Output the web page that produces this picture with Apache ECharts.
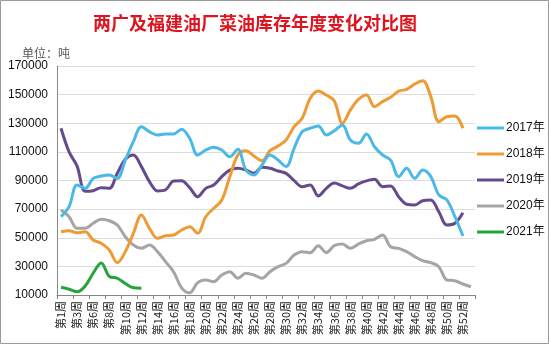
<!DOCTYPE html>
<html>
<head>
<meta charset="utf-8">
<script src="https://cdn.jsdelivr.net/npm/echarts@6/dist/echarts.min.js"></script>
<style>
html,body{margin:0;padding:0;background:#fff;}
#chart{width:550px;height:345px;}
</style>
</head>
<body>
<div id="chart"></div>
<script>
var titleText = '两广及福建油厂菜油库存年度变化对比图';
var unitText = '单位：吨';
var categories = ['第1周','第2周','第3周','第4周','第6周','第7周','第8周','第9周','第10周','第11周','第12周','第13周','第14周','第15周','第16周','第17周','第18周','第19周','第20周','第21周','第22周','第23周','第24周','第25周','第26周','第27周','第28周','第29周','第30周','第31周','第32周','第33周','第34周','第35周','第36周','第37周','第38周','第39周','第40周','第41周','第42周','第43周','第44周','第45周','第46周','第47周','第48周','第49周','第50周','第51周','第52周','第53周'];
var seriesNames = ['2017年','2018年','2019年','2020年','2021年'];
var y2017 = [64700,71700,86900,84500,91500,93100,93800,91500,104300,117100,127600,124100,121800,122500,122500,125800,119500,107800,111300,113200,111300,106600,111800,97300,93800,100800,107800,104300,99700,112500,124100,126500,128100,121800,124700,128800,118300,116000,122500,113600,107800,104300,92700,98500,91500,97300,92700,79900,76400,64700,51200];
var y2018 = [54200,54900,53500,54200,48400,46100,41400,32600,40300,53100,65900,56600,49600,51400,51900,55400,57700,53100,64700,70600,76400,92700,107800,110800,107100,103800,110800,114100,118300,127600,133500,147400,152500,149700,145600,130000,139300,146700,149700,141600,145100,148100,152500,153700,157400,159700,148600,131100,134600,135100,126500];
var y2019 = [126500,110000,100000,82500,82900,85000,84500,95000,104800,107800,99700,89200,82700,83400,89700,89900,85000,78700,84500,86900,92700,97300,98500,97300,95000,99200,98500,96600,95000,89900,85700,86900,79200,84500,88200,86200,84500,87600,89700,90800,85700,86200,78700,73400,72900,75900,76400,68200,58900,60100,67500];
var y2020 = [69400,64700,56600,56600,60100,62900,61900,58900,50700,44900,42600,44900,40300,33300,26300,15000,11500,18600,20500,19300,24000,26300,21700,25200,24000,21700,26300,29800,32100,37900,40300,39600,44400,39600,44500,45600,42600,45600,47900,48900,51900,43700,42600,40300,36800,34000,32600,29800,20500,20000,17700,15800];
var y2021 = [15400,14000,12200,16300,25200,32400,23000,21700,18000,15000,14700];
var colors = ['#4cb8e6','#ee9a35','#654b8c','#a5a5a5','#27a33b'];
var yMin = 10000, yMax = 170000, yStep = 20000;

var chart = echarts.init(document.getElementById('chart'), null, {renderer:'canvas'});
var dataSets = [y2017,y2018,y2019,y2020,y2021];
var series = seriesNames.map(function(n,i){
  return {
    name:n, type:'line', data:dataSets[i], smooth:0.35, showSymbol:false, symbol:'none',
    lineStyle:{width:3,color:colors[i]}, itemStyle:{color:colors[i]}, z: 10 - i
  };
});
chart.setOption({
  animation:false,
  backgroundColor:'#ffffff',
  color:colors,
  title:[{
    text:titleText, left:250, top:9, textAlign:'center',
    textStyle:{color:'#e0141e',fontSize:18,fontWeight:'bold',fontFamily:'Noto Sans CJK SC'}
  },{
    text:unitText, left:17, top:42,
    textStyle:{color:'#555',fontSize:12,fontWeight:'normal',fontFamily:'Noto Sans CJK SC'}
  }],
  legend:{
    orient:'vertical', left:472, top:116, itemWidth:27, itemHeight:3, itemGap:12,
    icon:'rect',
    textStyle:{color:'#111',fontSize:12,fontFamily:'Liberation Sans, Noto Sans CJK SC',lineHeight:14,padding:[0,0,0,-3]},
    data:seriesNames
  },
  grid:{left:57,right:75,top:66,bottom:50,containLabel:false},
  xAxis:{
    type:'category', data:categories, boundaryGap:true,
    axisLine:{lineStyle:{color:'#888',width:1}},
    axisTick:{show:true,length:4,lineStyle:{color:'#888'}},
    axisLabel:{interval:1,rotate:90,color:'#222',fontSize:11,margin:6,fontFamily:'Noto Sans CJK SC'},
    splitLine:{show:false}
  },
  yAxis:{
    type:'value', min:yMin, max:yMax, interval:yStep,
    axisLine:{show:true,lineStyle:{color:'#888',width:1}},
    axisTick:{show:false},
    axisLabel:{color:'#111',fontSize:12,margin:9,fontFamily:'Liberation Sans',formatter:function(v){return String(v);}},
    splitLine:{lineStyle:{color:'#dcdcdc',width:1}}
  },
  graphic:[{
    type:'rect', shape:{x:0.5,y:0.5,width:548,height:343}, silent:true,
    style:{fill:'none',stroke:'#9a9a9a',lineWidth:1}, z:100
  }],
  series:series
});
</script>
</body>
</html>
